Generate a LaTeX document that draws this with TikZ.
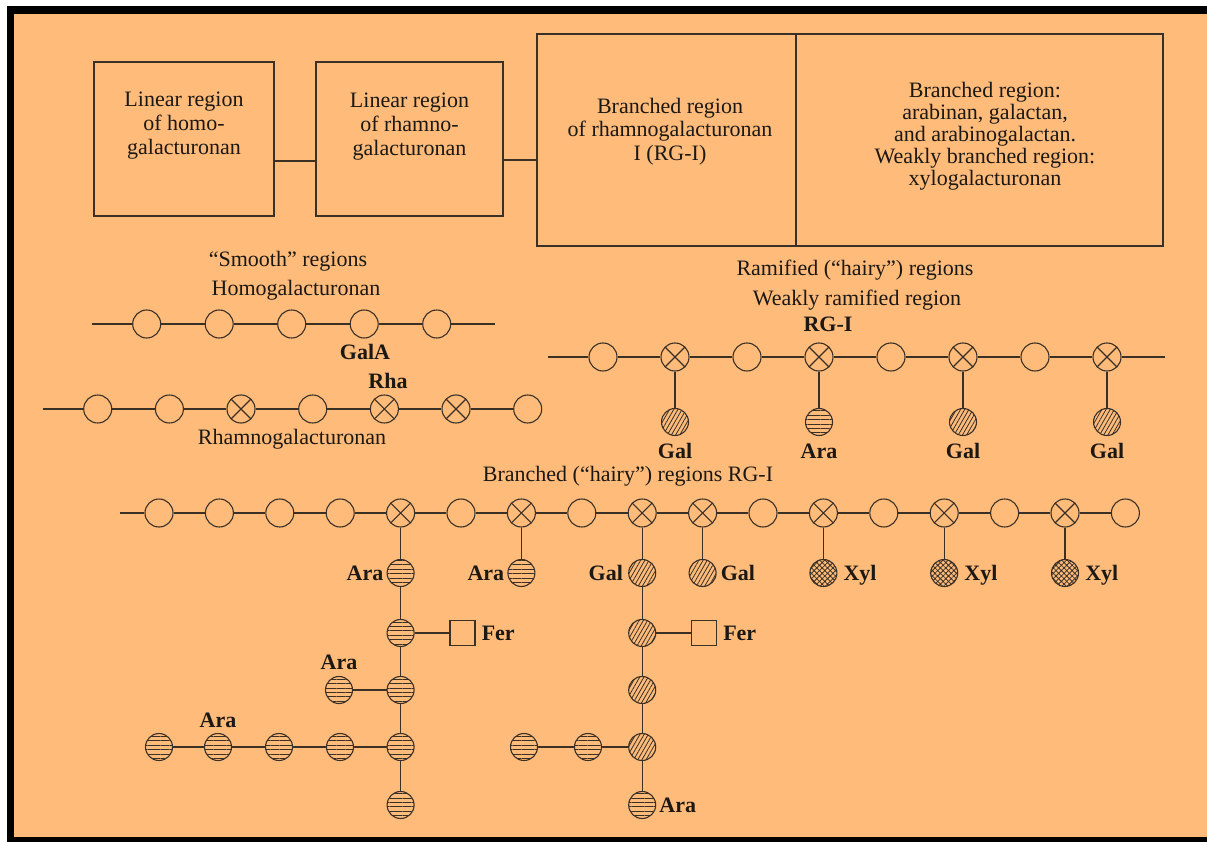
\documentclass[tikz,border=0pt]{standalone}
\usepackage{fontspec}
\setmainfont{Liberation Serif}
\usetikzlibrary{patterns.meta}
\definecolor{paper}{RGB}{255,187,122}
\definecolor{ink}{RGB}{58,48,38}
\definecolor{txt}{RGB}{28,24,20}
\begin{document}
\begin{tikzpicture}[x=1pt,y=-1pt,
  link/.style={draw=ink,line width=1.1pt},
  box/.style={draw=ink,line width=1.1pt,rectangle,inner sep=0pt},
  txtreg/.style={text=txt,font=\fontsize{22}{24}\selectfont,align=center,inner sep=0pt},
  txtb/.style={text=txt,font=\fontsize{22}{24}\selectfont\bfseries,inner sep=0pt,text height=15pt,text depth=0pt},
  unit/.style={circle,draw=ink,line width=1.1pt,minimum size=28pt,inner sep=0pt},
  rha/.style={unit,path picture={\draw[ink,line width=1.1pt]
      (path picture bounding box.north east) -- (path picture bounding box.south west)
      (path picture bounding box.north west) -- (path picture bounding box.south east);}},
  side/.style={circle,draw=ink,line width=1.1pt,minimum size=27pt,inner sep=0pt,pattern color=ink},
  ara/.style={side,pattern={Lines[angle=0,distance=4.4pt,line width=0.9pt]}},
  gal/.style={side,pattern={Lines[angle=60,distance=3.6pt,line width=0.8pt]}},
  xyl/.style={side,pattern={Hatch[angle=45,distance=3.8pt,line width=0.8pt]}},
  fer/.style={draw=ink,line width=1.1pt,rectangle,minimum size=25pt,inner sep=0pt}]

% frame and background
\fill[white] (0,0) rectangle (1207,842);
\fill[black] (7,6) rectangle (1207,842);
\fill[paper] (14,14) rectangle (1207,837);
\useasboundingbox (0,0) rectangle (1207,842);

% ---- block scheme of the pectin molecule ----
\node[box,minimum width=180pt,minimum height=154pt] (b1) at (184,139) {};
\node[box,minimum width=187pt,minimum height=154pt] (b2) at (409.5,139) {};
\node[box,minimum width=259pt,minimum height=212pt] (b3) at (666.5,140) {};
\node[box,minimum width=367pt,minimum height=212pt] (b4) at (979.5,140) {};
\node[txtreg] (t1) at (184,125.5) {Linear region\\of homo-\\galacturonan};
\node[txtreg] (t2) at (409.5,127) {Linear region\\of rhamno-\\galacturonan};
\node[txtreg,font=\fontsize{22}{23.5}\selectfont] (t3) at (670,131.5) {Branched region\\of rhamnogalacturonan\\I (RG-I)};
\node[txtreg,font=\fontsize{22}{22}\selectfont] (t4) at (985,136) {Branched region:\\arabinan, galactan,\\and arabinogalactan.\\Weakly branched region:\\xylogalacturonan};
\draw[link] ([yshift=-22pt]b1.east) -- ([yshift=-22pt]b1.east -| b2.west);
\draw[link] ([yshift=-21pt]b2.east) -- ([yshift=-21pt]b2.east -| b3.west);

% ---- smooth regions ----
\node[txtreg] (sm) at (288,261) {“Smooth” regions};
\node[txtreg] (hgname) at (296,290) {Homogalacturonan};
\foreach \i/\x in {1/146.7,2/219.2,3/291.7,4/364.2,5/436.7}
  \node[unit] (h\i) at (\x,324) {};
\coordinate (hL) at (91.7,324);
\coordinate (hR) at (495,324);
\draw[link] (hL) -- (h1) -- (h2) -- (h3) -- (h4) -- (h5) -- (hR);
\node[txtb] (galA) at (365,352) {GalA};
\node[txtb] (rhaL) at (388,381) {Rha};

\foreach \i/\x/\s in {1/97.7/unit,2/169.4/unit,3/241/rha,4/312.7/unit,5/384.4/rha,6/456/rha,7/527.7/unit}
  \node[\s] (r\i) at (\x,409) {};
\coordinate (rL) at (43,409);
\draw[link] (rL) -- (r1) -- (r2) -- (r3) -- (r4) -- (r5) -- (r6) -- (r7);
\node[txtreg] (rgname) at (292,439) {Rhamnogalacturonan};

% ---- weakly ramified region ----
\node[txtreg] (ram) at (855,270) {Ramified (“hairy”) regions};
\node[txtreg] (wr) at (857,300) {Weakly ramified region};
\node[txtb] (rg1) at (828,324) {RG-I};
\foreach \i/\x/\s in {1/603/unit,2/675/rha,3/747/unit,4/819/rha,5/891/unit,6/963/rha,7/1035/unit,8/1107/rha}
  \node[\s] (w\i) at (\x,357) {};
\coordinate (wL) at (548,357);
\coordinate (wR) at (1165,357);
\draw[link] (wL) -- (w1) -- (w2) -- (w3) -- (w4) -- (w5) -- (w6) -- (w7) -- (w8) -- (wR);
\foreach \i/\s/\n in {2/gal/Gal,4/ara/Ara,6/gal/Gal,8/gal/Gal}{
  \node[\s] (wp\i) at (w\i |- 0,422) {};
  \draw[link] (w\i) -- (wp\i);
  \node[txtb] (wt\i) at (w\i |- 0,451) {\n};
}

% ---- branched regions ----
\node[txtreg] (br) at (628,476) {Branched (“hairy”) regions RG-I};
\foreach \i/\s in {0/unit,1/unit,2/unit,3/unit,4/rha,5/unit,6/rha,7/unit,8/rha,
                   9/rha,10/unit,11/rha,12/unit,13/rha,14/unit,15/rha,16/unit}
  \node[\s] (c\i) at ({159+60.4*\i},513) {};
\coordinate (cL) at (119.6,513);
\draw[link] (cL) -- (c0) -- (c1) -- (c2) -- (c3) -- (c4) -- (c5) -- (c6) -- (c7) -- (c8)
  -- (c9) -- (c10) -- (c11) -- (c12) -- (c13) -- (c14) -- (c15) -- (c16);

% arabinan side chain
\foreach \i/\y in {1/573,2/633,3/690,4/747,5/805}
  \node[ara] (a\i) at (c4 |- 0,\y) {};
\draw[link] (c4) -- (a1) -- (a2) -- (a3) -- (a4) -- (a5);
\node[fer] (f1) at (462.5,633) {};
\draw[link] (a2) -- (f1);
\node[txtb,anchor=west] (ft1) at ([xshift=6pt]f1.east) {Fer};
\node[ara] (as) at (339,690) {};
\draw[link] (as) -- (a3);
\node[txtb] (ast) at (339,662) {Ara};
\foreach \i/\x in {1/159,2/218,3/279,4/340}
  \node[ara] (q\i) at (\x,747) {};
\draw[link] (q1) -- (q2) -- (q3) -- (q4) -- (a4);
\node[txtb] (qt) at (218,720) {Ara};
\node[txtb,anchor=east] (at1) at ([xshift=-3pt]a1.west) {Ara};

% single arabinose
\node[ara] (b1s) at (c6 |- 0,573) {};
\draw[link] (c6) -- (b1s);
\node[txtb,anchor=east] (bt1) at ([xshift=-3pt]b1s.west) {Ara};

% galactan side chain
\foreach \i/\y/\s in {1/573/gal,2/633/gal,3/690/gal,4/747/gal,5/805/ara}
  \node[\s] (g\i) at (c8 |- 0,\y) {};
\draw[link] (c8) -- (g1) -- (g2) -- (g3) -- (g4) -- (g5);
\node[txtb,anchor=east] (gt1) at ([xshift=-5pt]g1.west) {Gal};
\node[fer] (f2) at (704,633) {};
\draw[link] (g2) -- (f2);
\node[txtb,anchor=west] (ft2) at ([xshift=6pt]f2.east) {Fer};
\node[ara] (s1) at (524,747) {};
\node[ara] (s2) at (588,747) {};
\draw[link] (s1) -- (s2) -- (g4);
\node[txtb,anchor=west] (gt5) at ([xshift=3pt]g5.east) {Ara};

% single galactose
\node[gal] (gs) at (c9 |- 0,573) {};
\draw[link] (c9) -- (gs);
\node[txtb,anchor=west] (gst) at ([xshift=4pt]gs.east) {Gal};

% xylose branches
\foreach \i in {11,13,15}{
  \node[xyl] (x\i) at (c\i |- 0,573) {};
  \draw[link] (c\i) -- (x\i);
  \node[txtb,anchor=west] (xt\i) at ([xshift=6pt]x\i.east) {Xyl};
}
\end{tikzpicture}
\end{document}
